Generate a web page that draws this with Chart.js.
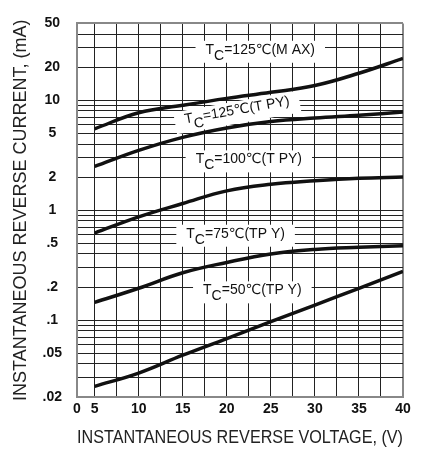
<!DOCTYPE html>
<html lang="en">
<head>
<meta charset="UTF-8">
<title>Instantaneous reverse current</title>
<script src="https://cdn.jsdelivr.net/npm/chart.js"></script>
<style>
  html, body { margin: 0; padding: 0; background: #fff; }
</style>
</head>
<body>
<canvas id="chart" width="429" height="452"></canvas>
<script>
// values (mA vs V)
const voltages = [5, 10, 15, 20, 25, 30, 35, 40];
const tc125Max = [5.5, 7.7, 9.0, 10.4, 11.8, 13.6, 17.6, 24];
const tc125Typ = [2.5, 3.5, 4.6, 5.6, 6.4, 6.9, 7.3, 7.8];
const tc100Typ = [0.62, 0.87, 1.15, 1.5, 1.72, 1.85, 1.95, 2.0];
const tc75Typ = [0.145, 0.195, 0.27, 0.335, 0.40, 0.44, 0.46, 0.475];
const tc50Typ = [0.025, 0.033, 0.048, 0.068, 0.097, 0.137, 0.195, 0.278];

const yTickValues = [50, 20, 10, 5, 2, 1, 0.5, 0.2, 0.1, 0.05, 0.02];
const yTickLabels = ['50', '20', '10', '5', '2', '1', '.5', '.2', '.1', '.05', '.02'];
const xTickValues = [5, 10, 15, 20, 25, 30, 35, 40];
const xTickLabels = ['5', '10', '15', '20', '25', '30', '35', '40'];
const xOriginLabel = '0';

const X_MIN = 3, X_MAX = 40, Y_MIN = 0.02, Y_MAX = 50;

// curve captions, anchored in data coordinates
const captions = [
  { rest: '=125\u2103(M AX)', x: 23.8, y: 27.6, angle: 0 },
  { rest: '=125\u2103(T PY)', x: 21.2, y: 7.75, angle: -10 },
  { rest: '=100\u2103(T PY)', x: 22.5, y: 2.78, angle: 0 },
  { rest: '=75\u2103(TP Y)', x: 21.0, y: 0.586, angle: 0 },
  { rest: '=50\u2103(TP Y)', x: 22.9, y: 0.179, angle: 0 }
];

// every log grid line: 1..9 in each decade
const yGrid = [];
for (let e = -2; e <= 1; e++) {
  for (let m = 1; m <= 9; m++) {
    const v = +(m * Math.pow(10, e)).toPrecision(3);
    if (v >= Y_MIN && v <= Y_MAX) yGrid.push(v);
  }
}
const xGrid = [X_MIN];
for (let v = 5; v <= X_MAX; v += 2.5) xGrid.push(v);

const series = [tc125Max, tc125Typ, tc100Typ, tc75Typ, tc50Typ];
const datasets = series.map(vals => ({
  data: voltages.map((v, i) => ({ x: v, y: vals[i] })),
  borderColor: '#111',
  borderWidth: 3.5,
  pointRadius: 0,
  tension: 0.4,
  fill: false
}));

const font = '"Liberation Sans", Arial, "DejaVu Sans", sans-serif';

const captionPlugin = {
  id: 'captions',
  beforeDatasetsDraw(chart) {
    const ctx = chart.ctx;
    captions.forEach(c => {
      const px = chart.scales.x.getPixelForValue(c.x);
      const py = chart.scales.y.getPixelForValue(c.y);
      ctx.save();
      ctx.font = '14px ' + font;
      const w = ctx.measureText('T').width + ctx.measureText('C').width + ctx.measureText(c.rest).width;
      ctx.translate(px, py);
      ctx.rotate(c.angle * Math.PI / 180);
      ctx.fillStyle = '#fff';
      ctx.fillRect(-w / 2 - 10, -11, w + 20, 22);
      ctx.restore();
    });
  },
  afterDatasetsDraw(chart) {
    const ctx = chart.ctx;
    captions.forEach(c => {
      const px = chart.scales.x.getPixelForValue(c.x);
      const py = chart.scales.y.getPixelForValue(c.y);
      ctx.save();
      ctx.font = '14px ' + font;
      const wT = ctx.measureText('T').width;
      const wC = ctx.measureText('C').width;
      const w = wT + wC + ctx.measureText(c.rest).width;
      ctx.translate(px, py);
      ctx.rotate(c.angle * Math.PI / 180);
      ctx.fillStyle = '#111';
      ctx.textBaseline = 'middle';
      ctx.textAlign = 'left';
      const x0 = -w / 2;
      ctx.fillText('T', x0, -2);
      ctx.fillText('C', x0 + wT, 4);
      ctx.fillText(c.rest, x0 + wT + wC, -2);
      ctx.restore();
    });
  }
};

const isEdge = (v, a, b) => v === a || v === b;

new Chart(document.getElementById('chart'), {
  type: 'line',
  data: { datasets },
  plugins: [captionPlugin],
  options: {
    responsive: false,
    animation: false,
    plugins: { legend: { display: false }, tooltip: { enabled: false } },
    layout: { padding: { top: 15, right: 26, left: 0, bottom: 0 } },
    scales: {
      x: {
        type: 'linear',
        min: X_MIN,
        max: X_MAX,
        afterBuildTicks: s => { s.ticks = xGrid.map(v => ({ value: v })); },
        afterFit: s => { s.height = 55; },
        ticks: {
          autoSkip: false,
          maxRotation: 0,
          padding: 4,
          color: '#111',
          font: { family: font, size: 14, weight: 'bold' },
          callback: v => {
            if (v === X_MIN) return xOriginLabel;
            const i = xTickValues.indexOf(v);
            return i >= 0 ? xTickLabels[i] : '';
          }
        },
        grid: {
          drawTicks: false,
          color: c => (c.tick && isEdge(c.tick.value, X_MIN, X_MAX)) ? '#888' : '#222',
          lineWidth: c => (c.tick && isEdge(c.tick.value, X_MIN, X_MAX)) ? 2 : 1
        },
        border: { color: '#888', width: 2 },
        title: {
          display: true,
          text: 'INSTANTANEOUS REVERSE VOLTAGE, (V)',
          color: '#222',
          font: { family: font, size: 19 },
          padding: { top: 0, bottom: 3 }
        }
      },
      y: {
        type: 'logarithmic',
        min: Y_MIN,
        max: Y_MAX,
        afterBuildTicks: s => { s.ticks = yGrid.map(v => ({ value: v })); },
        afterFit: s => { s.width = 77; },
        ticks: {
          autoSkip: false,
          crossAlign: 'center',
          padding: 15,
          color: '#111',
          font: { family: font, size: 14, weight: 'bold' },
          callback: v => {
            const i = yTickValues.findIndex(t => Math.abs(t - v) < 1e-9);
            return i >= 0 ? yTickLabels[i] : '';
          }
        },
        grid: {
          drawTicks: false,
          color: c => (c.tick && isEdge(c.tick.value, Y_MIN, Y_MAX)) ? '#888' : '#222',
          lineWidth: c => (c.tick && isEdge(c.tick.value, Y_MIN, Y_MAX)) ? 2 : 1
        },
        border: { color: '#888', width: 2 },
        title: {
          display: true,
          text: 'INSTANTANEOUS REVERSE CURRENT, (mA)',
          color: '#222',
          font: { family: font, size: 18 },
          padding: { top: 10, bottom: 0 }
        }
      }
    }
  }
});
</script>
</body>
</html>
